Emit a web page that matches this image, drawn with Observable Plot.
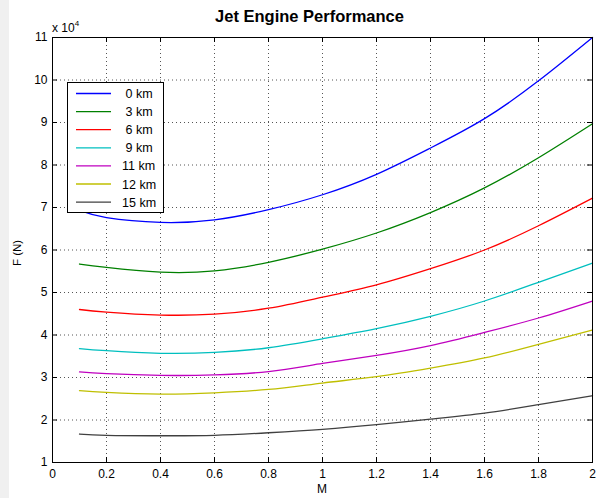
<!DOCTYPE html>
<html>
<head>
<meta charset="utf-8">
<script src="https://cdn.jsdelivr.net/npm/d3@7"></script>
<script src="https://cdn.jsdelivr.net/npm/@observablehq/plot@0.6"></script>
<style>
  html, body { margin: 0; padding: 0; }
  body {
    width: 597px; height: 498px; overflow: hidden;
    background: linear-gradient(to right, #f0f0f0 9px, #ffffff 9px);
    font-family: "Liberation Sans", Arial, sans-serif;
  }
</style>
</head>
<body>
<div id="chart"></div>
<script>
// Mach numbers at which thrust was evaluated
const mach = [0.1, 0.2, 0.4, 0.6, 0.8, 1.0, 1.2, 1.4, 1.6, 1.8, 2.0];

// Altitude series labels and line colours
const altitudes = ["0 km", "3 km", "6 km", "9 km", "11 km", "12 km", "15 km"];
const lineColors = ["#0000ff", "#008000", "#ff0000", "#00bfbf", "#bf00bf", "#bfbf00", "#404040"];

// Thrust, in units of 10^4 N, for each altitude
const thrust0km  = [6.93, 6.76, 6.65, 6.71, 6.95, 7.30, 7.78, 8.40, 9.09, 9.98, 11.00];
const thrust3km  = [5.67, 5.59, 5.48, 5.51, 5.71, 6.02, 6.40, 6.88, 7.46, 8.17, 8.97];
const thrust6km  = [4.60, 4.54, 4.47, 4.49, 4.63, 4.89, 5.18, 5.56, 6.00, 6.57, 7.22];
const thrust9km  = [3.68, 3.63, 3.57, 3.59, 3.70, 3.91, 4.15, 4.44, 4.80, 5.24, 5.69];
const thrust11km = [3.13, 3.09, 3.05, 3.06, 3.14, 3.33, 3.52, 3.75, 4.06, 4.40, 4.80];
const thrust12km = [2.69, 2.65, 2.61, 2.64, 2.72, 2.87, 3.02, 3.22, 3.46, 3.78, 4.12];
const thrust15km = [1.67, 1.64, 1.63, 1.64, 1.70, 1.78, 1.89, 2.02, 2.16, 2.36, 2.57];

// Axis ticks
const xTicks = [0, 0.2, 0.4, 0.6, 0.8, 1, 1.2, 1.4, 1.6, 1.8, 2];
const yTicks = [1, 2, 3, 4, 5, 6, 7, 8, 9, 10, 11];

const series = [thrust0km, thrust3km, thrust6km, thrust9km, thrust11km, thrust12km, thrust15km];
const rows = series.flatMap((vals, i) => vals.map((F, j) => ({M: mach[j], F, alt: altitudes[i]})));

const W = 597, H = 498;
const mL = 52, mR = 5, mT = 37, mB = 36;
const innerW = W - mL - mR, innerH = H - mT - mB;
const tick = 5;

const gridX = xTicks.slice(1, -1);
const gridY = yTicks.slice(1, -1);
const dotted = {stroke: "#555", strokeDasharray: "1,3", strokeWidth: 1};

const svg = Plot.plot({
  width: W,
  height: H,
  marginLeft: mL, marginRight: mR, marginTop: mT, marginBottom: mB,
  style: {background: "transparent", fontSize: "12px", fontFamily: "'Liberation Sans', Arial, sans-serif", color: "#000"},
  x: {domain: [0, 2], ticks: xTicks, tickFormat: d => String(+d.toFixed(1)), tickSize: 0, tickPadding: 7, label: null},
  y: {domain: [1, 11], ticks: yTicks, tickFormat: d => String(d), tickSize: 0, tickPadding: 5, label: null},
  color: {domain: altitudes, range: lineColors},
  marks: [
    Plot.ruleX(gridX, {x: d => d, ...dotted}),
    Plot.ruleY(gridY, {y: d => d, ...dotted}),
    Plot.line(rows, {x: "M", y: "F", z: "alt", stroke: "alt", curve: "natural", strokeWidth: 1.3}),
    // inward tick marks on all four sides
    Plot.ruleX(xTicks, {x: d => d, insetTop: innerH - tick, stroke: "#000"}),
    Plot.ruleX(xTicks, {x: d => d, insetBottom: innerH - tick, stroke: "#000"}),
    Plot.ruleY(yTicks, {y: d => d, insetRight: innerW - tick, stroke: "#000"}),
    Plot.ruleY(yTicks, {y: d => d, insetLeft: innerW - tick, stroke: "#000"}),
    Plot.frame({stroke: "#000", strokeWidth: 1})
  ]
});

const root = d3.select(svg);
const font = "'Liberation Sans', Arial, sans-serif";

// Title
root.append("text")
  .attr("x", 309.5).attr("y", 22)
  .attr("text-anchor", "middle")
  .attr("font-family", font).attr("font-size", 16.5).attr("font-weight", "bold")
  .attr("fill", "#000")
  .text("Jet Engine Performance");

// Exponent label of the y axis
const expo = root.append("text")
  .attr("x", mL).attr("y", 32)
  .attr("text-anchor", "start")
  .attr("font-family", font).attr("font-size", 12).attr("fill", "#000");
expo.append("tspan").text("x 10");
expo.append("tspan").attr("font-size", 8).attr("dy", -6).text("4");

// Axis labels
root.append("text")
  .attr("x", mL + innerW / 2).attr("y", 493)
  .attr("text-anchor", "middle")
  .attr("font-family", font).attr("font-size", 12).attr("fill", "#000")
  .text("M");

root.append("text")
  .attr("transform", "translate(21,253) rotate(-90)")
  .attr("text-anchor", "middle")
  .attr("font-family", font).attr("font-size", 11.5).attr("fill", "#000")
  .text("F (N)");

// Legend
const lg = root.append("g");
lg.append("rect")
  .attr("x", 67.5).attr("y", 82.5).attr("width", 96).attr("height", 130)
  .attr("fill", "#fff").attr("stroke", "#000").attr("stroke-width", 1);
altitudes.forEach((name, i) => {
  const y = 93.5 + i * 18.1;
  lg.append("line")
    .attr("x1", 76).attr("x2", 111).attr("y1", y).attr("y2", y)
    .attr("stroke", lineColors[i]).attr("stroke-width", 1.3);
  lg.append("text")
    .attr("x", 122).attr("y", y).attr("dy", "0.36em")
    .attr("text-anchor", "start")
    .attr("font-family", font).attr("font-size", 12.5).attr("fill", "#000")
    .style("white-space", "pre")
    .text(name.length < 5 ? " " + name : name);
});

document.getElementById("chart").appendChild(svg);
</script>
</body>
</html>
